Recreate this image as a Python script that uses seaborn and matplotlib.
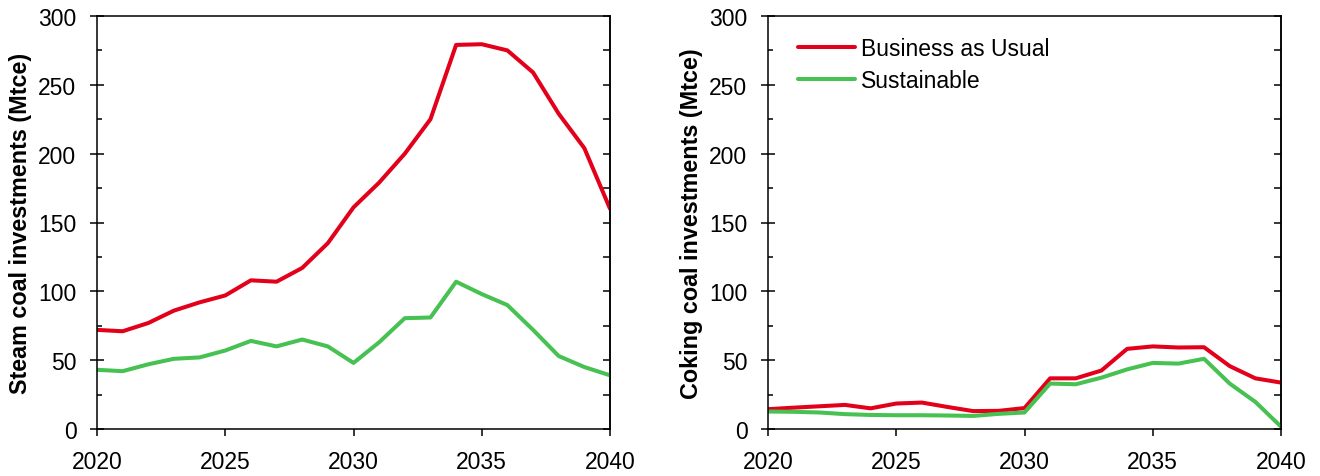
import numpy as np
import pandas as pd
import matplotlib
matplotlib.use("Agg")
import matplotlib.pyplot as plt
from matplotlib.ticker import MultipleLocator
import seaborn as sns

years = list(range(2020, 2041))
steam_bau = [72, 71, 77, 86, 92, 97, 108, 107, 117, 135, 161, 179, 200, 225,
             279, 279.5, 275, 259, 229, 204, 160]
steam_sus = [43, 42, 47, 51, 52, 57, 64, 60, 65, 60, 48, 63, 80.5, 81,
             107, 98, 90, 72, 53, 45, 39]
coking_bau = [14.4, 15.5, 16.5, 17.5, 15, 18.5, 19.2, 16, 13, 13.2, 15.2, 36.8, 36.8, 42.5,
              58.2, 60, 59.2, 59.4, 45.7, 36.8, 33.7]
coking_sus = [12.7, 12.5, 12, 10.8, 10.2, 10, 10, 9.8, 9.5, 11, 12, 33, 32.5, 37.3,
              43.3, 48, 47.5, 51, 33, 19.7, 1.7]
scenarios = ["Business as Usual", "Sustainable"]
colors = ["#E2001A", "#46C152"]
ylabels = ["Steam coal investments (Mtce)", "Coking coal investments (Mtce)"]

def long_df(bau, sus):
    return pd.DataFrame({
        "year": years + years,
        "value": bau + sus,
        "scenario": [scenarios[0]] * len(years) + [scenarios[1]] * len(years),
    })

sns.set_theme(style="ticks")
plt.rcParams["font.family"] = ["Liberation Sans", "DejaVu Sans"]
plt.rcParams["axes.linewidth"] = 1.1
for k in ["text.color", "axes.labelcolor", "xtick.color", "ytick.color",
          "axes.edgecolor"]:
    plt.rcParams[k] = "black"

fig = plt.figure(figsize=(13.2, 4.77), dpi=100)
W, H = 1320, 477
boxes = [(97, 17, 610, 430), (768, 17, 1281, 430)]
data = [long_df(steam_bau, steam_sus), long_df(coking_bau, coking_sus)]
fs = 16.5

for i, (box, df) in enumerate(zip(boxes, data)):
    x0, y0, x1, y1 = box
    ax = fig.add_axes([x0 / W, 1 - y1 / H, (x1 - x0) / W, (y1 - y0) / H])
    sns.lineplot(data=df, x="year", y="value", hue="scenario",
                 hue_order=scenarios, palette=colors, linewidth=2.9,
                 ax=ax, legend=(i == 1))
    ax.set_xlim(2020, 2040)
    ax.set_ylim(0, 300)
    ax.xaxis.set_major_locator(MultipleLocator(5))
    ax.yaxis.set_major_locator(MultipleLocator(50))
    ax.yaxis.set_minor_locator(MultipleLocator(25))
    ax.tick_params(axis="x", which="major", direction="out", length=5,
                   width=1.1, labelsize=fs, pad=10, color="black")
    ax.tick_params(axis="y", which="major", direction="inout", length=9.6,
                   width=1.1, labelsize=fs, pad=10, color="black")
    ax.tick_params(axis="y", which="minor", direction="in", length=3.8,
                   width=1.1, color="black")
    ax.set_xlabel("")
    ax.set_ylabel(ylabels[i], fontsize=16.8, fontweight="bold")
    ax.yaxis.set_label_coords(-0.127, 0.5)
    for s in ax.spines.values():
        s.set_color("black")
        s.set_linewidth(1.1)
    sec = ax.secondary_yaxis("right")
    sec.yaxis.set_major_locator(MultipleLocator(25))
    sec.tick_params(axis="y", which="major", direction="in", length=5,
                    width=1.1, labelright=False, color="black")
    sec.spines["right"].set_linewidth(1.1)
    sec.spines["right"].set_color("black")
    if i == 1:
        leg = ax.legend(loc="upper left", bbox_to_anchor=(0.058, 0.95),
                        frameon=False, fontsize=fs, handlelength=2.5,
                        handletextpad=0.25, labelspacing=0.4,
                        borderpad=0, borderaxespad=0)
        for line in leg.get_lines():
            line.set_linewidth(2.9)

fig.savefig("out.png", dpi=100)
